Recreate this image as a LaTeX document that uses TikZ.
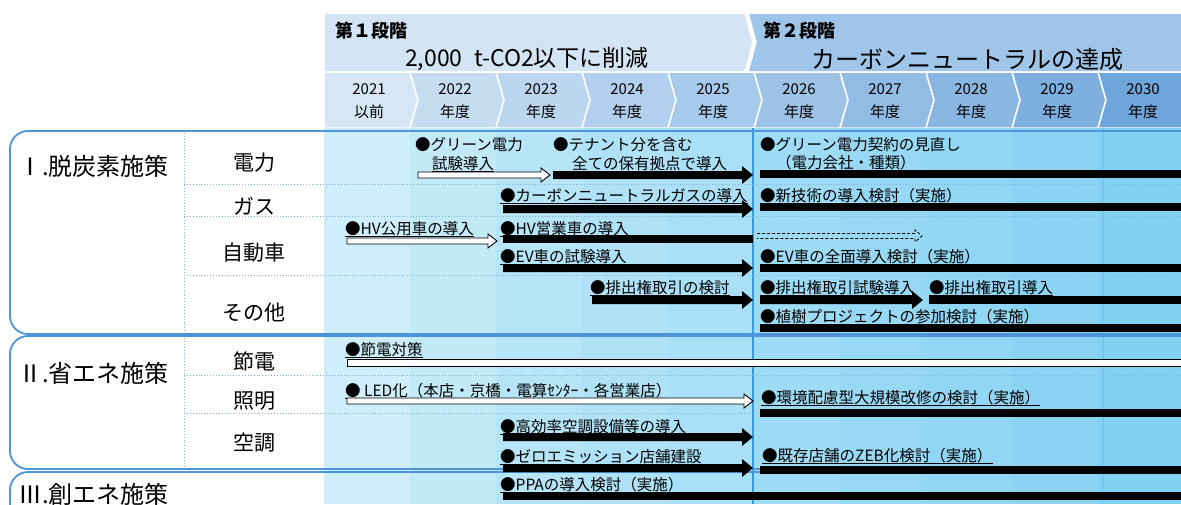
\documentclass[tikz,border=0pt]{standalone}
\usepackage{fontspec}
\setmainfont{Noto Sans CJK JP}
\definecolor{phA}{HTML}{D3E4F4}
\definecolor{phB}{HTML}{9FC5E8}
\definecolor{y0}{HTML}{D6E6F5}
\definecolor{y1}{HTML}{C6DDF1}
\definecolor{y2}{HTML}{BCD6EF}
\definecolor{y3}{HTML}{B2D0ED}
\definecolor{y4}{HTML}{A7C9EA}
\definecolor{y5}{HTML}{9CC2E6}
\definecolor{y6}{HTML}{93BCE4}
\definecolor{y7}{HTML}{8AB6E2}
\definecolor{y8}{HTML}{7FAFDF}
\definecolor{y9}{HTML}{6EA5DB}
\definecolor{b0}{HTML}{CDEEFA}
\definecolor{b1}{HTML}{C3EAF9}
\definecolor{b2}{HTML}{B7E5F8}
\definecolor{b3}{HTML}{B0E2F7}
\definecolor{b4}{HTML}{A9E0F7}
\definecolor{b5}{HTML}{9EDCF6}
\definecolor{b6}{HTML}{97D9F5}
\definecolor{b7}{HTML}{91D6F4}
\definecolor{b8}{HTML}{8AD3F3}
\definecolor{b9}{HTML}{82D0F2}
\definecolor{secblue}{HTML}{4D94D8}
\definecolor{sepcol}{HTML}{7FB0E0}
\definecolor{midline}{HTML}{3A9AD9}
\tikzset{
 lbl/.style={anchor=west, inner sep=0pt, font=\fontsize{15.5}{16}\selectfont},
 subcat/.style={inner sep=0pt, font=\fontsize{21}{22}\selectfont},
 sect/.style={anchor=west, inner sep=0pt, font=\fontsize{24}{25}\selectfont},
 yr/.style={inner sep=0pt, font=\fontsize{15}{16}\selectfont},
 ulin/.style={line width=0.7pt},
 sepline/.style={draw=sepcol, dotted, line width=0.9pt},
 secbox/.style={draw=secblue, line width=1.8pt, rounded corners=18pt},
 cellline/.style={draw=white, line width=1.5pt},
}
\newcommand\ulab[4]{\node[lbl] (#1) at (#2,#3) {#4};\draw[ulin] (#1.south west) -- (#1.south east);}
\newcommand\plab[4]{\node[lbl] (#1) at (#2,#3) {#4};}
\newcommand\blkarrow[3]{\fill[black] (#1,#3-4) -- (#2-11,#3-4) -- (#2-11,#3-9) -- (#2,#3) -- (#2-11,#3+9) -- (#2-11,#3+4) -- (#1,#3+4) -- cycle;}
\newcommand\blkbar[3]{\fill[black] (#1,#3-4) rectangle (#2,#3+4);}
\newcommand\whtarrow[3]{\filldraw[fill=white,draw=black,line width=0.9pt] (#1,#3-3) -- (#2-9,#3-3) -- (#2-9,#3-7) -- (#2,#3) -- (#2-9,#3+7) -- (#2-9,#3+3) -- (#1,#3+3) -- cycle;}
\newcommand\whtbar[3]{\filldraw[fill=white,draw=black,line width=0.9pt] (#1,#3-3.5) rectangle (#2,#3+3.5);}
\newcommand\dsharrow[3]{\draw[line width=0.8pt, dash pattern=on 3pt off 2pt] (#1,#3-2.5) -- (#2-7,#3-2.5) -- (#2-7,#3-6) -- (#2,#3) -- (#2-7,#3+6) -- (#2-7,#3+2.5) -- (#1,#3+2.5);}
\begin{document}
\begin{tikzpicture}[x=1pt,y=-1pt]
\useasboundingbox (0,0) rectangle (1181,504);
\clip (0,0) rectangle (1181,504);
\fill[white] (0,0) rectangle (1181,504);
% phase banners
\filldraw[phB,cellline] (748,13) -- (1190,13) -- (1190,72) -- (748,72) -- (756,42) -- cycle;
\filldraw[phA,cellline] (324,13) -- (745,13) -- (753,42) -- (745,72) -- (324,72) -- cycle;
\node[anchor=west, inner sep=0pt, font=\fontsize{18}{19}\selectfont\bfseries] (ph1) at (335,31) {第１段階};
\node[anchor=west, inner sep=0pt, font=\fontsize{23}{24}\selectfont] (ph1t) at (405,59) {2,000\enspace t-CO2以下に削減};
\node[anchor=west, inner sep=0pt, font=\fontsize{18}{19}\selectfont\bfseries] (ph2) at (763,31) {第２段階};
\node[anchor=west, inner sep=0pt, font=\fontsize{24}{25}\selectfont] (ph2t) at (811,59) {カーボンニュートラルの達成};
% year cells
\filldraw[y0,cellline] (324,72) -- (410,72) -- (418,100) -- (410,128) -- (324,128) -- cycle;
\foreach \i/\c in {1/y1,2/y2,3/y3,4/y4,5/y5,6/y6,7/y7,8/y8,9/y9}{
  \pgfmathsetmacro\L{324+86*\i}
  \pgfmathsetmacro\R{\L+86}
  \filldraw[\c,cellline] (\L,72) -- (\R,72) -- (\R+8,100) -- (\R,128) -- (\L,128) -- (\L+8,100) -- cycle;
}
\foreach \i/\a/\b in {0/2021/以前,1/2022/年度,2/2023/年度,3/2024/年度,4/2025/年度,5/2026/年度,6/2027/年度,7/2028/年度,8/2029/年度,9/2030/年度}{
  \pgfmathsetmacro\C{324+86*\i+45}
  \node[yr] (ya\i) at (\C,89) {\a};
  \node[yr] (yb\i) at (\C,112) {\b};
}
% section boxes (white fill)
\fill[white, rounded corners=18pt] (10,131) rectangle (1205,334);
\fill[white, rounded corners=18pt] (10,336) rectangle (1205,469);
\fill[white, rounded corners=18pt] (10,472) rectangle (1205,540);
% body columns
\foreach \i/\c in {0/b0,1/b1,2/b2,3/b3,4/b4,5/b5,6/b6,7/b7,8/b8,9/b9}{
  \pgfmathsetmacro\L{324+86*\i}
  \fill[\c] (\L,128) rectangle (\L+87,504);
}
\draw[midline, line width=1.5pt] (753,128) -- (753,504);
\draw[color=b9!70!midline, line width=1pt] (1103,128) -- (1103,504);
% section outlines
\draw[secbox] (10,131) rectangle (1205,334);
\draw[secbox] (10,336) rectangle (1205,469);
\draw[secbox] (10,472) rectangle (1205,540);
% separators
\draw[sepline] (184,133) -- (184,333);
\draw[sepline] (184,338) -- (184,468);
\foreach \yy in {184,216,275,375,413}{\draw[sepline] (184,\yy) -- (1181,\yy);}
% left labels
\node[sect] (s1) at (18,166) {Ⅰ.脱炭素施策};
\node[sect] (s2) at (18,373) {Ⅱ.省エネ施策};
\node[sect] (s3) at (18,494) {Ⅲ.創エネ施策};
\node[subcat] (c1) at (254,163) {電力};
\node[subcat] (c2) at (254,206) {ガス};
\node[subcat] (c3) at (254,253) {自動車};
\node[subcat] (c4) at (254,313) {その他};
\node[subcat] (c5) at (254,361) {節電};
\node[subcat] (c6) at (254,401) {照明};
\node[subcat] (c7) at (254,443) {空調};
% 電力
\plab{t1}{415}{145}{●グリーン電力}
\ulab{t2}{432}{164}{試験導入}
\whtarrow{418}{550}{175}
\plab{t3}{553}{145}{●テナント分を含む}
\ulab{t4}{572}{164}{全ての保有拠点で導入}
\blkarrow{553}{753}{175}
\plab{t5}{760}{145}{●グリーン電力契約の見直し}
\ulab{t6}{776}{163}{（電力会社・種類）}
\blkbar{760}{1181}{174}
% ガス
\ulab{t7}{500}{196}{●カーボンニュートラルガスの導入}
\blkarrow{503}{753}{209}
\ulab{t8}{760}{196}{●新技術の導入検討（実施）}
\blkbar{760}{1181}{207}
% 自動車
\ulab{t9}{345}{229}{●HV公用車の導入}
\whtarrow{347}{497}{241}
\ulab{t10}{500}{229}{●HV営業車の導入}
\blkbar{503}{753}{239}
\dsharrow{757}{922}{236}
\ulab{t11}{500}{257}{●EV車の試験導入}
\blkarrow{503}{753}{268}
\ulab{t12}{760}{257}{●EV車の全面導入検討（実施）}
\blkbar{760}{1181}{268}
% その他
\ulab{t13}{590}{288}{●排出権取引の検討}
\blkarrow{592}{753}{300}
\ulab{t14}{760}{288}{●排出権取引試験導入}
\blkarrow{760}{923}{300}
\ulab{t15}{929}{288}{●排出権取引導入}
\blkbar{929}{1181}{300}
\ulab{t16}{760}{317}{●植樹プロジェクトの参加検討（実施）}
\blkbar{760}{1181}{328}
% 節電
\ulab{t17}{345}{350}{●節電対策}
\whtbar{347}{1190}{363}
% 照明
\ulab{t18}{345}{391}{● LED化（本店・京橋・電算ｾﾝﾀｰ・各営業店）}
\whtarrow{347}{753}{401}
\ulab{t19}{761}{398}{●環境配慮型大規模改修の検討（実施）}
\blkbar{760}{1181}{413}
% 空調
\ulab{t20}{500}{427}{●高効率空調設備等の導入}
\blkarrow{503}{753}{437}
\ulab{t21}{500}{457}{●ゼロエミッション店舗建設}
\blkarrow{503}{753}{468}
\ulab{t22}{762}{456}{●既存店舗のZEB化検討（実施）}
\blkbar{760}{1181}{470}
% 創エネ
\ulab{t23}{500}{485}{●PPAの導入検討（実施）}
\blkbar{503}{1181}{496}
\end{tikzpicture}
\end{document}
